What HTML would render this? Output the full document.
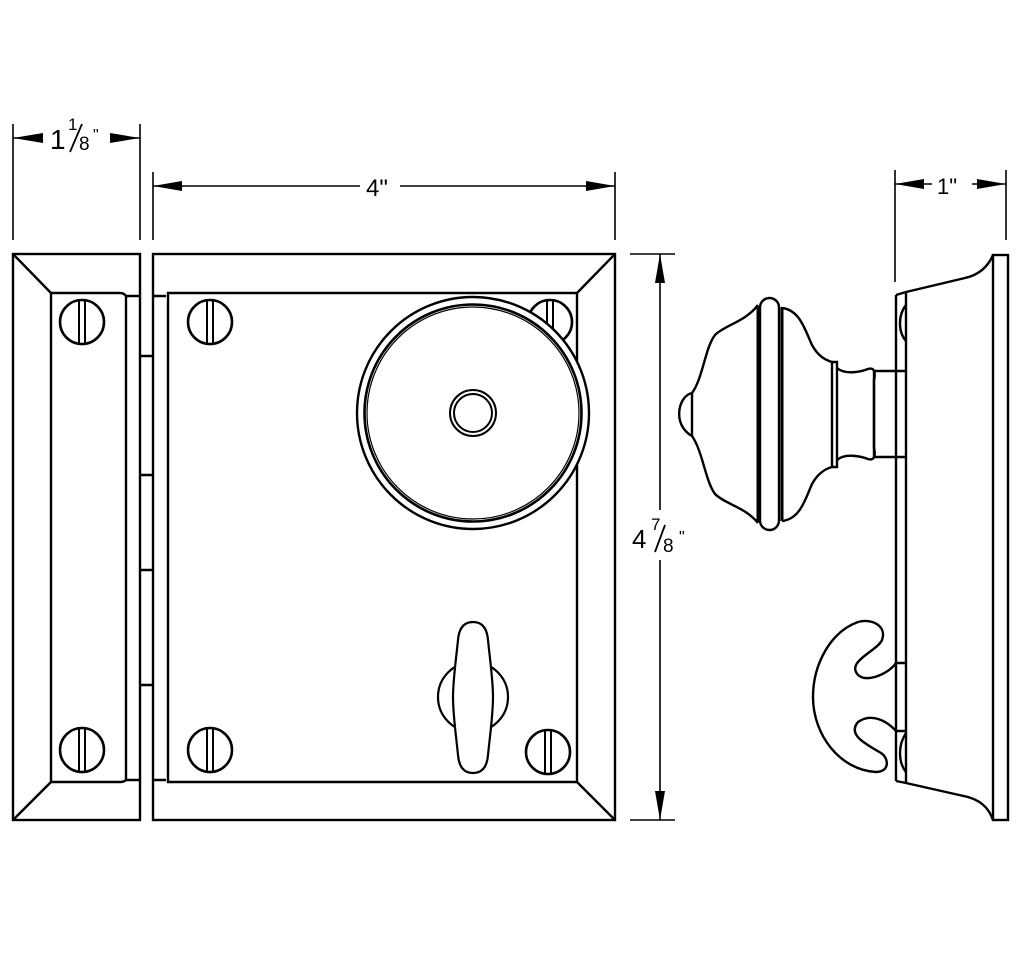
<!DOCTYPE html>
<html><head><style>html,body{margin:0;padding:0;background:#fff}svg{display:block}</style></head>
<body>
<svg width="1024" height="973" viewBox="0 0 1024 973" xmlns="http://www.w3.org/2000/svg">
<defs>
<g id="scr"><circle r="22" fill="#fff" stroke="#000" stroke-width="2.6"/><line x1="-3" y1="-21" x2="-3" y2="21" stroke="#000" stroke-width="2"/><line x1="3" y1="-21" x2="3" y2="21" stroke="#000" stroke-width="2"/></g>
</defs>
<g fill="none" stroke="#000" stroke-width="2.4">
<rect x="13" y="254" width="127" height="566"/>
<path d="M51 293 H120 Q124 293 126 296 H140 M51 782 H120 Q124 782 126 780 H140 M51 293 V782 M126 296 V780 M13 254 L51 293 M13 820 L51 782"/>
<path d="M140 356 H153 M140 475 H153 M140 570 H153 M140 685 H153"/>
<rect x="153" y="254" width="462" height="566"/>
<path d="M168 293 H577 V782 H168 Z M153 296 H166 M153 780 H166 M615 254 L577 293 M615 820 L577 782"/>
</g>
<use href="#scr" x="82" y="322"/><use href="#scr" x="82" y="750"/>
<use href="#scr" x="210" y="322"/><use href="#scr" x="210" y="750"/>
<use href="#scr" x="550" y="322"/><use href="#scr" x="548" y="752"/>
<circle cx="473" cy="413" r="116" fill="#fff" stroke="#000" stroke-width="2.4"/>
<circle cx="473" cy="413" r="108.5" fill="none" stroke="#000" stroke-width="2.6"/>
<circle cx="473" cy="413" r="106" fill="none" stroke="#000" stroke-width="1.2"/>
<circle cx="473" cy="413" r="23" fill="none" stroke="#000" stroke-width="2"/>
<circle cx="473" cy="413" r="19" fill="none" stroke="#000" stroke-width="2"/>
<circle cx="473" cy="697" r="35" fill="#fff" stroke="#000" stroke-width="2.2"/>
<path d="M473 622 C482 622 487 628 488 640 C490 660 493 680 493 697 C493 715 490 735 488 755 C487 767 482 773 473 773 C464 773 459 767 458 755 C456 735 453 715 453 697 C453 680 456 660 458 640 C459 628 464 622 473 622 Z" fill="#fff" stroke="#000" stroke-width="2.2"/>
<g stroke="#000" stroke-width="1.6" fill="none">
<path d="M13 124 V240 M140 124 V240 M153 172 V240 M615 172 V240 M895 170 V282 M1006 170 V240 M630 254 H675 M630 820 H675"/>
<path d="M13 138 H42 M112 138 H140 M153 186 H360 M400 186 H615 M895 184 H932 M972 184 H1006 M660 254 V510 M660 560 V820"/>
</g>
<g fill="#000">
<path d="M13 138 L43 133 L43 143 Z M140 138 L110 133 L110 143 Z"/>
<path d="M153 186 L182 181 L182 191 Z M615 186 L586 181 L586 191 Z"/>
<path d="M895 184 L924 179 L924 189 Z M1006 184 L977 179 L977 189 Z"/>
<path d="M660 254 L655 283 L665 283 Z M660 820 L655 791 L665 791 Z"/>
</g>
<g font-family="Liberation Sans, sans-serif" fill="#000">
<text x="50" y="149" font-size="28">1</text><text x="68" y="130" font-size="17">1</text>
<line x1="82" y1="124" x2="70" y2="152" stroke="#000" stroke-width="1.8"/>
<text x="79" y="150" font-size="19">8</text><text x="93" y="140" font-size="16">"</text>
<text x="366" y="196" font-size="24">4"</text>
<text x="937" y="194" font-size="22">1"</text>
<text x="632" y="548" font-size="26">4</text><text x="651" y="530" font-size="17">7</text>
<line x1="665" y1="525" x2="655" y2="552" stroke="#000" stroke-width="1.8"/>
<text x="663" y="552" font-size="19">8</text><text x="679" y="542" font-size="16">"</text>
</g>
<g fill="none" stroke="#000" stroke-width="2.4">
<rect x="993" y="255" width="15" height="565"/>
<path d="M896 295 L906 292 L965 278 C983 274 990 262 993 255"/>
<path d="M896 781 L906 783 L968 797 C985 802 990 812 993 820"/>
<path d="M896 295 V781 M906 292 V783 M896 663 H906 M896 731 H906"/>
<path d="M906 305 C898 315 898 332 906 341 M906 733 C898 745 898 762 906 772"/>
<path d="M874 371 H906 M874 457 H906 M874 371 V457"/>
<path d="M837 368 C845 375 860 372 868 369 C874 367 876 372 874 380 L874 448 C876 456 874 461 868 459 C860 456 845 453 837 460"/>
<path d="M832 362 H837 V467 H832 Z"/>
<path d="M758 305 C745 322 725 325 715 335 C705 348 703 378 692 393"/>
<path d="M692 393 C678 396 672 425 692 436 M692 393 V436"/>
<path d="M692 436 C703 452 705 480 715 494 C725 504 745 507 758 523"/>
<path d="M782 308 C800 310 805 330 812 345 C818 356 825 360 832 362 M782 521 C800 519 805 500 812 484 C818 473 825 469 832 467"/>
<rect x="760" y="298" width="19" height="232" rx="9.5"/>
<path d="M758 306 V522 M782 307 V521" stroke-width="3"/>
<path d="M896 663 C888 675 862 685 856 672 C850 660 878 650 882 640 C887 626 872 618 858 622 C830 632 813 665 813 697 C813 735 840 770 876 772 C890 772 889 758 881 753 C866 744 847 735 858 722 C872 712 888 722 896 731"/>
</g>
</svg>
</body></html>
